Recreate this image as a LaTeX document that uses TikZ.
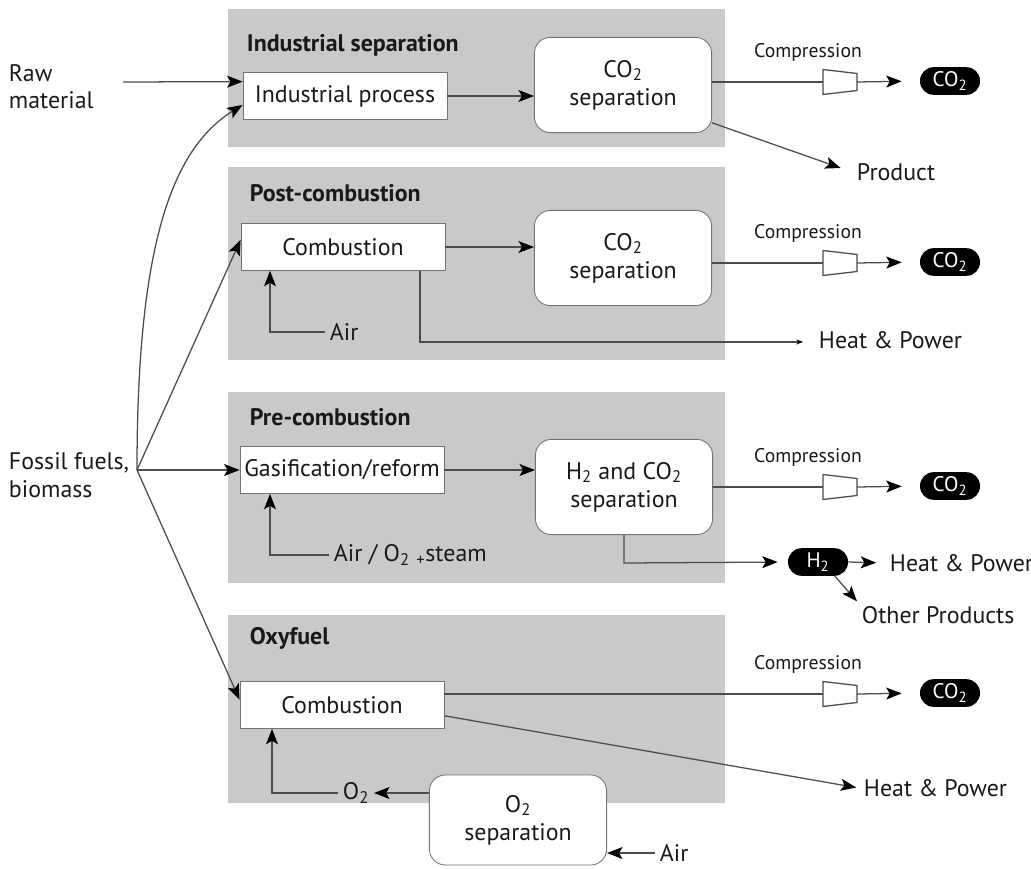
\documentclass[tikz,border=0pt]{standalone}
\usepackage{fontspec}
\setmainfont{PT Sans}
\usetikzlibrary{arrows.meta}

\begin{document}
\begin{tikzpicture}
  [x=0.025cm,y=-0.025cm,
   every node/.style={font=\fontsize{17}{18}\selectfont,text=black!90},
   procbox/.style={draw=black!55,fill=white,line width=0.6pt,inner xsep=2pt,
     minimum width=5.1cm,minimum height=1.17cm},
   sepbox/.style={draw=black!55,fill=white,line width=0.6pt,rounded corners=0.4cm,
     minimum width=4.43cm,minimum height=2.38cm,align=center,font=\fontsize{17}{20}\selectfont},
   pill/.style={fill=black,rounded corners=0.34cm,minimum width=1.5cm,
     minimum height=0.69cm,inner sep=0pt,text=white,font=\fontsize{15}{18}\selectfont},
   paneltitle/.style={font=\fontsize{17}{18}\selectfont\bfseries,anchor=west},
   cmplabel/.style={font=\fontsize{14}{16}\selectfont},
   flow/.style={draw=black!70,line width=0.9pt},
   arr/.style={-{Stealth[length=11pt,width=8.5pt,inset=2.5pt,color=black]}},
   smallarr/.style={-{Stealth[length=5pt,width=3.5pt,color=black]}},
   compressor/.pic={
     \draw[flow,fill=white] (-17,-12.5) -- (17,-8.5) -- (17,8.5) -- (-17,12.5) -- cycle;
     \coordinate (-in) at (-17,0);
     \coordinate (-out) at (17,0);
   }]

  \useasboundingbox (0,0) rectangle (1031,868);

  % grey panels
  \fill[black!21] (228,9) rectangle (725,147);
  \fill[black!21] (228,167) rectangle (725,360);
  \fill[black!21] (228,392) rectangle (725,583);
  \fill[black!21] (228,615) rectangle (725,803);

  \node[paneltitle] (t1) at (242,45) {Industrial separation};
  \node[paneltitle] (t2) at (245,193) {Post-combustion};
  \node[paneltitle] (t3) at (245,417) {Pre-combustion};
  \node[paneltitle] (t4) at (245,638) {Oxyfuel};

  % inputs on the left
  \node[align=left,anchor=west,font=\fontsize{17}{19}\selectfont] (raw) at (4,87) {Raw\\material};
  \node[align=left,anchor=west,font=\fontsize{17}{20}\selectfont] (ff) at (4,475) {Fossil fuels,\\biomass};
  \coordinate (rawout) at (123,82);
  \coordinate (j) at (137,470);

  % process boxes
  \node[procbox] (ip) at (345,96) {Industrial process};
  \node[procbox] (cb2) at (343,247) {Combustion};
  \node[procbox] (gs3) at (342,470) {Gasification/reform};
  \node[procbox] (cb4) at (342,705) {Combustion};

  % separation units
  \node[sepbox] (sep1) at (623,85) {CO\textsubscript{2}\\separation};
  \node[sepbox] (sep2) at (623,258) {CO\textsubscript{2}\\separation};
  \node[sepbox] (sep3) at (624,487) {H\textsubscript{2} and CO\textsubscript{2}\\separation};
  \node[sepbox,minimum height=2.25cm] (o2sep) at (518,820) {O\textsubscript{2}\\separation};

  % compression and CO2 product
  \foreach \i/\y in {1/82, 2/263, 3/487, 4/694} {
    \pic (cp\i) at (840,\y) {compressor};
    \node[cmplabel] (lc\i) at (808,\y-30) {Compression};
    \node[pill] (co\i) at (950,\y-1) {CO\textsubscript{2}};
  }
  \node[pill] (h2) at (818,562) {H\textsubscript{2}};

  % outputs
  \node[anchor=west] (prod) at (852,172) {Product};
  \node[anchor=west] (hp2) at (814,340) {Heat \& Power};
  \node[anchor=west] (hp3) at (885,563) {Heat \& Power};
  \node[anchor=west] (op) at (857,615) {Other Products};
  \node[anchor=west] (hp4) at (859,788) {Heat \& Power};

  % air and oxygen feeds
  \node[anchor=west] (air2) at (325,332) {Air};
  \node[anchor=west] (air3) at (329,555) {Air / O\textsubscript{2} \textsubscript{+}steam};
  \node (o2) at (356,793) {O\textsubscript{2}};
  \node[anchor=west,inner ysep=1pt] (air4) at (655,853) {Air};
  \coordinate (air2c) at (270,332);
  \coordinate (air3c) at (270,555);
  \coordinate (o2c) at (272,793);
  \coordinate (hp2c) at (420,342);
  \coordinate (h2c) at (624,563);

  % feed lines
  \draw[flow,arr] (rawout) -- (ip.172);
  \draw[flow,arr] (j) .. controls (137,250) and (170,150) .. (ip.185);
  \foreach \to in {cb2.176, gs3.west, cb4.177}
    \draw[flow,arr] (j) -- (\to);

  % process to separation
  \foreach \from/\to in {ip/sep1, cb2/sep2, gs3/sep3}
    \draw[flow,arr] (\from.east) -- (\from.east -| \to.west);

  % to compression
  \foreach \s/\i in {sep1/1, sep2/2, sep3/3, cb4/4} {
    \draw[flow] (\s.east |- cp\i-in) -- (cp\i-in);
    \draw[flow,arr,shorten >=0.45cm] (cp\i-out) -- (co\i.west);
  }

  % other outputs
  \draw[flow,arr,shorten >=0.3cm] (sep1.-23) -- (prod.west);
  \draw[flow,smallarr,shorten >=0.27cm] (cb2.south -| hp2c) -- (hp2c) -- (hp2.west |- hp2c);
  \draw[flow,arr,shorten >=0.25cm] (sep3.south -| h2c) -- (h2c) -- (h2.west);
  \draw[flow,arr,shorten >=0.22cm] (h2.east) -- (hp3.west);
  \draw[flow,arr] (h2.-40) -- (op.north west);
  \draw[flow,arr,shorten >=2pt] (cb4.-6) -- (hp4.west);

  % air lines
  \draw[flow,arr] (air2.west) -- (air2c) -- (air2c |- cb2.south);
  \draw[flow,arr] (air3.west) -- (air3c) -- (air3c |- gs3.south);
  \draw[flow,arr] (o2.west) -- (o2c) -- (o2c |- cb4.south);
  \draw[flow,arr] (o2sep.west |- o2) -- (o2.east);
  \draw[flow,arr] (air4.west) -- (air4.west -| o2sep.east);

\end{tikzpicture}
\end{document}
